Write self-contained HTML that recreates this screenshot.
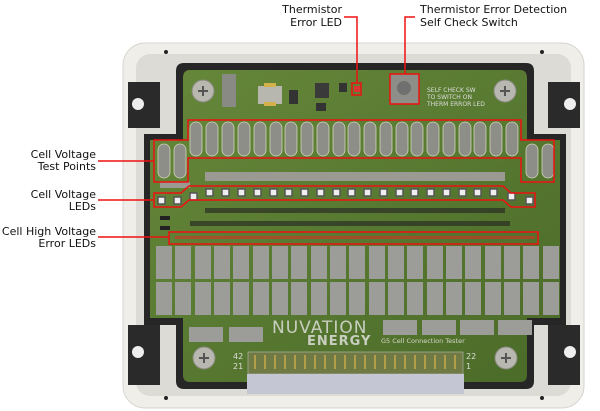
<!DOCTYPE html>
<html><head><meta charset="utf-8"><style>
html,body{margin:0;padding:0;background:#fff;width:600px;height:411px;overflow:hidden}
svg{display:block}
text{font-family:"DejaVu Sans","Liberation Sans",sans-serif}
</style></head><body>
<svg width="600" height="411" viewBox="0 0 600 411" xmlns="http://www.w3.org/2000/svg">
<defs>
<linearGradient id="pcb" x1="0" y1="0" x2="1" y2="1">
<stop offset="0" stop-color="#66883a"/><stop offset="1" stop-color="#4a6a28"/></linearGradient>
</defs>
<!-- enclosure -->
<rect x="123" y="43" width="461" height="365" rx="22" fill="#efeee9" stroke="#d6d5cf"/>
<rect x="136" y="54" width="435" height="342" rx="14" fill="#dcdbd5"/>
<!-- black corner areas -->
<path d="M128 82 H160 V128 H128Z M128 325 H160 V385 H128Z M548 82 H580 V128 H548Z M548 325 H580 V385 H548Z" fill="#2a2a2a"/>
<circle cx="138" cy="104" r="6" fill="#eee"/><circle cx="570" cy="104" r="6" fill="#eee"/>
<circle cx="138" cy="352" r="6" fill="#eee"/><circle cx="570" cy="352" r="6" fill="#eee"/>
<!-- gasket -->
<path d="M184 63 H526 Q534 63 534 71 V134 H566 V325 H534 V381 Q534 389 526 389 H184 Q176 389 176 381 V325 H144 V134 H176 V71 Q176 63 184 63Z" fill="#262626"/>
<circle cx="166" cy="52" r="2" fill="#222"/><circle cx="542" cy="52" r="2" fill="#222"/>
<circle cx="166" cy="398" r="2" fill="#222"/><circle cx="542" cy="398" r="2" fill="#222"/>
<!-- pcb -->
<path d="M190 70 H520 Q527 70 527 78 V140 H560 V318 H527 V375 Q527 382 520 382 H190 Q183 382 183 375 V318 H150 V140 H183 V78 Q183 70 190 70Z" fill="url(#pcb)"/>
<!-- screws -->
<g fill="#b9b8b0" stroke="#8a8a80"><circle cx="203" cy="91" r="11"/><circle cx="505" cy="91" r="11"/><circle cx="204" cy="358" r="11"/><circle cx="506" cy="358" r="11"/></g>
<g stroke="#555" stroke-width="2"><path d="M198 91h10M203 86v10M500 91h10M505 86v10M199 358h10M204 353v10M501 358h10M506 353v10"/></g>
<!-- top components -->
<rect x="222" y="74" width="14" height="33" fill="#8a8a84"/>
<rect x="258" y="86" width="24" height="18" fill="#b7b7b0"/><rect x="264" y="83" width="12" height="4" fill="#d2b04a"/><rect x="264" y="102" width="12" height="4" fill="#d2b04a"/>
<rect x="289" y="90" width="9" height="14" fill="#333"/>
<rect x="315" y="83" width="14" height="15" fill="#3a3a3a"/><rect x="316" y="103" width="10" height="8" fill="#333"/>
<rect x="339" y="83" width="8" height="9" fill="#333"/>
<rect x="354" y="86" width="6" height="6" fill="#d33"/>
<rect x="390" y="74" width="29" height="30" fill="#8e8e88"/><circle cx="404" cy="88" r="7" fill="#707070"/>
<text x="427" y="92" font-size="6" fill="#ddd">SELF CHECK SW</text>
<text x="427" y="99" font-size="6" fill="#ddd">TO SWITCH ON</text>
<text x="427" y="106" font-size="6" fill="#ddd">THERM ERROR LED</text>
<!-- test points -->
<g fill="#8e8e88" stroke="#cfd4b8" stroke-width="0.8">
<rect x="190" y="122" width="12" height="34" rx="6"/><rect x="206" y="122" width="12" height="34" rx="6"/><rect x="222" y="122" width="12" height="34" rx="6"/><rect x="238" y="122" width="12" height="34" rx="6"/><rect x="254" y="122" width="12" height="34" rx="6"/><rect x="270" y="122" width="12" height="34" rx="6"/><rect x="285" y="122" width="12" height="34" rx="6"/><rect x="301" y="122" width="12" height="34" rx="6"/><rect x="317" y="122" width="12" height="34" rx="6"/><rect x="333" y="122" width="12" height="34" rx="6"/><rect x="348" y="122" width="12" height="34" rx="6"/><rect x="364" y="122" width="12" height="34" rx="6"/><rect x="380" y="122" width="12" height="34" rx="6"/><rect x="396" y="122" width="12" height="34" rx="6"/><rect x="411" y="122" width="12" height="34" rx="6"/><rect x="427" y="122" width="12" height="34" rx="6"/><rect x="443" y="122" width="12" height="34" rx="6"/><rect x="459" y="122" width="12" height="34" rx="6"/><rect x="474" y="122" width="12" height="34" rx="6"/><rect x="490" y="122" width="12" height="34" rx="6"/><rect x="506" y="122" width="12" height="34" rx="6"/>
<rect x="158" y="144" width="12" height="34" rx="6"/><rect x="174" y="144" width="12" height="34" rx="6"/><rect x="526" y="144" width="12" height="34" rx="6"/><rect x="542" y="144" width="12" height="34" rx="6"/>
</g>
<g fill="#9a9a92"><rect x="205" y="172" width="300" height="9"/><rect x="160" y="182" width="30" height="6"/></g>
<!-- LEDs -->
<g fill="#eee" stroke="#555" stroke-width="1.5">
<rect x="206" y="189" width="7" height="7"/><rect x="222" y="189" width="7" height="7"/><rect x="238" y="189" width="7" height="7"/><rect x="254" y="189" width="7" height="7"/><rect x="270" y="189" width="7" height="7"/><rect x="285" y="189" width="7" height="7"/><rect x="301" y="189" width="7" height="7"/><rect x="317" y="189" width="7" height="7"/><rect x="333" y="189" width="7" height="7"/><rect x="348" y="189" width="7" height="7"/><rect x="364" y="189" width="7" height="7"/><rect x="380" y="189" width="7" height="7"/><rect x="396" y="189" width="7" height="7"/><rect x="411" y="189" width="7" height="7"/><rect x="427" y="189" width="7" height="7"/><rect x="443" y="189" width="7" height="7"/><rect x="459" y="189" width="7" height="7"/><rect x="474" y="189" width="7" height="7"/><rect x="490" y="189" width="7" height="7"/>
<rect x="158" y="197" width="7" height="7"/><rect x="174" y="197" width="7" height="7"/><rect x="190" y="193" width="7" height="7"/><rect x="508" y="193" width="7" height="7"/><rect x="526" y="197" width="7" height="7"/>
</g>
<g fill="#222"><rect x="205" y="208" width="300" height="5" opacity="0.6"/><rect x="190" y="221" width="320" height="5" opacity="0.6"/><rect x="160" y="216" width="10" height="4"/><rect x="160" y="226" width="10" height="4"/></g>
<g fill="#e22"><rect x="175" y="236" width="360" height="3" opacity="0.5"/></g>
<!-- gray pads -->
<g fill="#9c9c98">
<rect x="156" y="246" width="16" height="33"/><rect x="175" y="246" width="16" height="33"/><rect x="195" y="246" width="16" height="33"/><rect x="214" y="246" width="16" height="33"/><rect x="233" y="246" width="16" height="33"/><rect x="253" y="246" width="16" height="33"/><rect x="272" y="246" width="16" height="33"/><rect x="291" y="246" width="16" height="33"/><rect x="311" y="246" width="16" height="33"/><rect x="330" y="246" width="16" height="33"/><rect x="349" y="246" width="16" height="33"/><rect x="369" y="246" width="16" height="33"/><rect x="388" y="246" width="16" height="33"/><rect x="407" y="246" width="16" height="33"/><rect x="427" y="246" width="16" height="33"/><rect x="446" y="246" width="16" height="33"/><rect x="465" y="246" width="16" height="33"/><rect x="485" y="246" width="16" height="33"/><rect x="504" y="246" width="16" height="33"/><rect x="523" y="246" width="16" height="33"/><rect x="543" y="246" width="16" height="33"/>
<rect x="156" y="282" width="16" height="33"/><rect x="175" y="282" width="16" height="33"/><rect x="195" y="282" width="16" height="33"/><rect x="214" y="282" width="16" height="33"/><rect x="233" y="282" width="16" height="33"/><rect x="253" y="282" width="16" height="33"/><rect x="272" y="282" width="16" height="33"/><rect x="291" y="282" width="16" height="33"/><rect x="311" y="282" width="16" height="33"/><rect x="330" y="282" width="16" height="33"/><rect x="349" y="282" width="16" height="33"/><rect x="369" y="282" width="16" height="33"/><rect x="388" y="282" width="16" height="33"/><rect x="407" y="282" width="16" height="33"/><rect x="427" y="282" width="16" height="33"/><rect x="446" y="282" width="16" height="33"/><rect x="465" y="282" width="16" height="33"/><rect x="485" y="282" width="16" height="33"/><rect x="504" y="282" width="16" height="33"/><rect x="523" y="282" width="16" height="33"/><rect x="543" y="282" width="16" height="33"/>
<rect x="189" y="327" width="34" height="15"/><rect x="229" y="327" width="34" height="15"/>
<rect x="383" y="320" width="34" height="15"/><rect x="422" y="320" width="34" height="15"/><rect x="460" y="320" width="34" height="15"/><rect x="498" y="320" width="34" height="15"/>
</g>
<text x="272" y="333" font-size="17" fill="#c9cfc0" letter-spacing="1">NUVATION</text>
<text x="307" y="345" font-size="13" font-weight="bold" fill="#c9cfc0" letter-spacing="1">ENERGY</text>
<text x="381" y="343" font-size="6.5" fill="#d6d6c8">G5 Cell Connection Tester</text>
<text x="233" y="359" font-size="8" fill="#ddd">42</text><text x="233" y="369" font-size="8" fill="#ddd">21</text>
<text x="466" y="359" font-size="8" fill="#ddd">22</text><text x="466" y="369" font-size="8" fill="#ddd">1</text>
<!-- connector -->
<rect x="248" y="352" width="215" height="22" fill="#6f7a45" stroke="#bbb" stroke-width="0.6"/>
<rect x="247" y="374" width="217" height="20" fill="#c4c7d3"/>
<g fill="none" stroke="#d6b14a" stroke-width="1.3">
<path d="M255 355v14M265 355v14M275 355v14M285 355v14M295 355v14M305 355v14M315 355v14M325 355v14M335 355v14M345 355v14M355 355v14M365 355v14M375 355v14M385 355v14M395 355v14M405 355v14M415 355v14M425 355v14M435 355v14M445 355v14M455 355v14"/></g>
<!-- red annotations -->
<g fill="none" stroke="#e11" stroke-width="1.5">
<path d="M154 140H188V120H521V140H554V182H521V158H188V182H154Z"/>
<path d="M154 193H181L189 186H503L511 193H535V207H511L503 200H189L181 207H154Z"/>
<rect x="169" y="232" width="369" height="12"/>
<rect x="352" y="83" width="9" height="12"/>
<rect x="390" y="74" width="29" height="30"/>
<path d="M98 161H154M98 200H154M98 237H169"/>
<path d="M344 17H357V83M415 17H405V74"/>
</g>
<!-- labels -->
<g font-size="11" fill="#111">
<text x="96" y="158" text-anchor="end">Cell Voltage</text>
<text x="96" y="170" text-anchor="end">Test Points</text>
<text x="96" y="198" text-anchor="end">Cell Voltage</text>
<text x="96" y="210" text-anchor="end">LEDs</text>
<text x="96" y="235" text-anchor="end">Cell High Voltage</text>
<text x="96" y="247" text-anchor="end">Error LEDs</text>
<text x="342" y="13" text-anchor="end">Thermistor</text>
<text x="342" y="26" text-anchor="end">Error LED</text>
<text x="420" y="13">Thermistor Error Detection</text>
<text x="420" y="26">Self Check Switch</text>
</g>
</svg>
</body></html>
